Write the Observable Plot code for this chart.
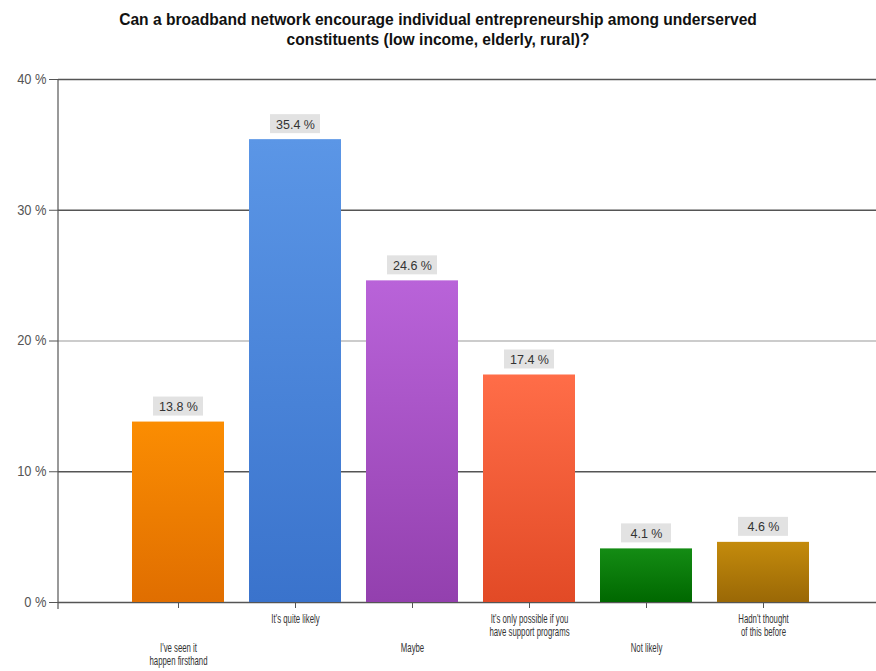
<!DOCTYPE html>
<html>
<head>
<meta charset="utf-8">
<script src="https://cdn.jsdelivr.net/npm/d3@7"></script>
<script src="https://cdn.jsdelivr.net/npm/@observablehq/plot@0.6"></script>
<style>
  body { margin: 0; background: #fff; }
  #title { font: bold 15.6px "Liberation Sans", Arial, sans-serif; text-align: center; line-height: 20px; padding-top: 10px; height: 50px; color: #111; width: 876px; }
</style>
</head>
<body>
<div id="title">Can a broadband network encourage individual entrepreneurship among underserved<br>constituents (low income, elderly, rural)?</div>
<div id="chart"></div>
<script>
const categories = ["I've seen it\nhappen firsthand", "It's quite likely", "Maybe", "It's only possible if you\nhave support programs", "Not likely", "Hadn't thought\nof this before"];
const values = [13.8, 35.4, 24.6, 17.4, 4.1, 4.6];
const yTicks = [0, 10, 20, 30, 40];
const colorTop = ["#fb8d02", "#5b96e6", "#b963d9", "#ff6d48", "#148c14", "#c48b0c"];
const colorBottom = ["#e06e00", "#3a73cc", "#9340ae", "#e24a26", "#006800", "#9a6806"];

const data = categories.map((c, i) => ({cat: c, value: values[i], i}));

const defs = () => {
  const d = d3.create("svg:defs");
  colorTop.forEach((c, i) => {
    const g = d.append("linearGradient").attr("id", "grad" + i).attr("x1", 0).attr("y1", 0).attr("x2", 0).attr("y2", 1);
    g.append("stop").attr("offset", "0%").attr("stop-color", c);
    g.append("stop").attr("offset", "100%").attr("stop-color", colorBottom[i]);
  });
  return d.node();
};

const yAxisLine = (index, scales, values, dim) => {
  const l = d3.create("svg:line")
    .attr("x1", dim.marginLeft).attr("x2", dim.marginLeft)
    .attr("y1", dim.marginTop).attr("y2", dim.height - dim.marginBottom + 7)
    .attr("stroke", "#555").attr("stroke-width", 1.2);
  return l.node();
};

const chart = Plot.plot({
  width: 876,
  height: 611,
  marginTop: 19,
  marginBottom: 69,
  marginLeft: 58,
  marginRight: 0,
  style: {fontFamily: '"Liberation Sans", Arial, sans-serif', fontSize: "12px", color: "#444", background: "#fff"},
  x: {domain: categories, range: [119, 823], paddingInner: 0.21, paddingOuter: 0.105, label: null},
  y: {domain: [0, 40], label: null},
  marks: [
    defs,
    Plot.ruleY(yTicks.filter(d => d !== 20), {stroke: "#555", strokeWidth: 1.3, strokeOpacity: 1}),
    Plot.ruleY([20], {stroke: "#bbb", strokeWidth: 1.3, strokeOpacity: 1}),
    yAxisLine,
    Plot.axisY({ticks: yTicks, tickFormat: d => d + " %", tickSize: 9, tickPadding: 3, stroke: "#555", fill: "#555", fontSize: 14, label: null}),
    ...data.map(d => Plot.barY([d], {x: "cat", y: "value", fill: `url(#grad${d.i})`})),
    Plot.barY(data, {x: "cat", y1: "value", y2: "value", insetTop: -25, insetBottom: 6, insetLeft: 21, insetRight: 21, fill: "#e2e2e2"}),
    Plot.text(data, {x: "cat", y: "value", text: d => d.value.toFixed(1) + " %", dy: -15, fill: "#333", fontSize: 12.5}),
    Plot.axisX({tickSize: 6, tickFormat: () => "", stroke: "#555", label: null}),
    Plot.axisX({ticks: categories.filter((c, i) => i % 2 === 1), tickSize: 0, tickPadding: 11, fill: "#333", fontSize: 12, lineHeight: 1.1, label: null}),
    Plot.axisX({ticks: categories.filter((c, i) => i % 2 === 0), tickSize: 0, tickPadding: 40, fill: "#333", fontSize: 12, lineHeight: 1.1, label: null})
  ]
});
document.getElementById("chart").appendChild(chart);

// Condense the category labels horizontally (the reference uses a narrow face)
chart.querySelectorAll('g[aria-label="x-axis tick label"] text').forEach(t => {
  const tr = t.getAttribute("transform") || "";
  t.setAttribute("transform", tr + " scale(0.65,1)");
});
// Condense the y tick labels slightly
chart.querySelectorAll('g[aria-label="y-axis tick label"] text').forEach(t => {
  const tr = t.getAttribute("transform") || "";
  t.setAttribute("transform", tr + " scale(0.92,1)");
});
</script>
</body>
</html>
